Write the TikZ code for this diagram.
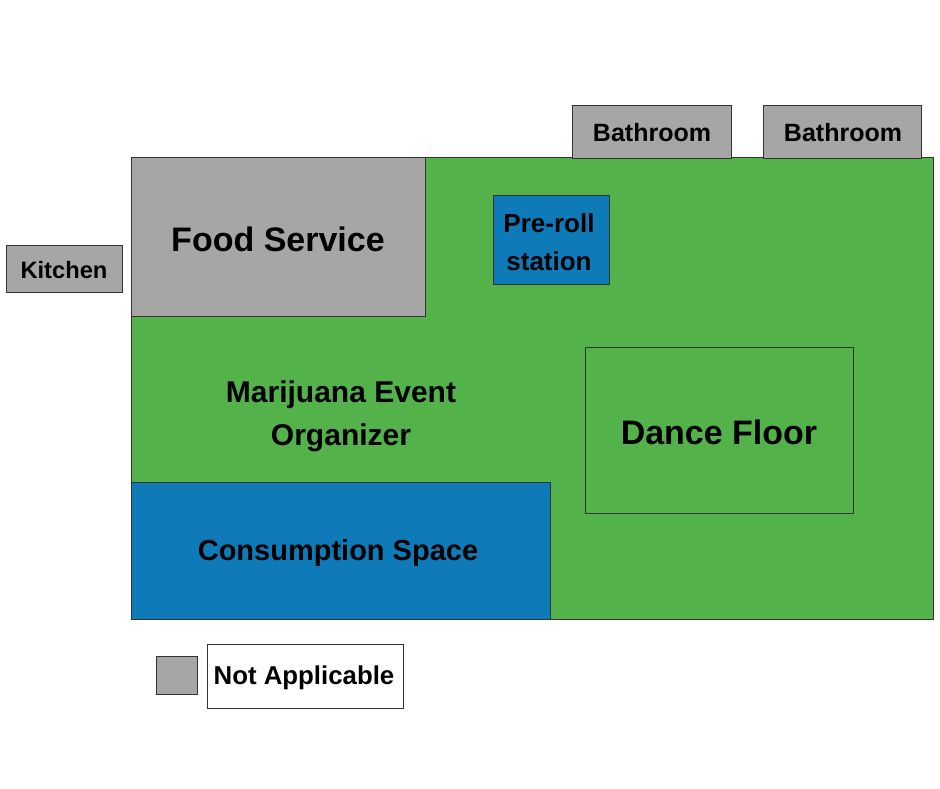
\documentclass[tikz,border=0pt]{standalone}
\usepackage{fontspec}
\setmainfont{Liberation Sans}
\definecolor{grn}{HTML}{53B34A}
\definecolor{blu}{HTML}{0F7AB8}
\definecolor{gry}{HTML}{A6A6A6}
\begin{document}
\begin{tikzpicture}[x=1pt,y=-1pt,
  room/.style={draw=black!80,line width=0.8pt},
  lbl/.style={font=\bfseries,align=center,text=black}]
\useasboundingbox (0,0) rectangle (940,788);
\fill[white] (0,0) rectangle (940,788);
\draw[room,fill=grn] (131,157) rectangle (933,619);
\draw[room,fill=gry] (131,157) rectangle (425,316);
\draw[room,fill=gry] (6,245) rectangle (122,292);
\draw[room,fill=gry] (572,105) rectangle (731,158);
\draw[room,fill=gry] (763,105) rectangle (921,158);
\draw[room,fill=blu] (493,195) rectangle (609,284);
\draw[room,fill=grn] (585,347) rectangle (853,513);
\draw[room,fill=blu] (131,482) rectangle (550,619);
\draw[room,fill=gry] (156,656) rectangle (197,694);
\draw[room,fill=white] (207,644) rectangle (403,708);
\node[lbl,font=\fontsize{34}{36}\bfseries\selectfont] (fs) at (278,239) {Food Service};
\node[lbl,font=\fontsize{23.7}{26}\bfseries\selectfont] (k) at (64,270) {Kitchen};
\node[lbl,font=\fontsize{25}{27}\bfseries\selectfont] (b1) at (652,133) {Bathroom};
\node[lbl,font=\fontsize{25}{27}\bfseries\selectfont] (b2) at (843,133) {Bathroom};
\node[lbl,font=\fontsize{26}{38}\bfseries\selectfont] (pr) at (549,242) {Pre-roll\\station};
\node[lbl,font=\fontsize{30}{43}\bfseries\selectfont] (meo) at (341,416) {Marijuana Event\\Organizer};
\node[lbl,font=\fontsize{34}{36}\bfseries\selectfont] (df) at (719,432) {Dance Floor};
\node[lbl,font=\fontsize{29}{30}\bfseries\selectfont] (cs) at (338,553) {Consumption Space};
\node[lbl,font=\fontsize{25.8}{28}\bfseries\selectfont] (na) at (304,678) {Not Applicable};
\end{tikzpicture}
\end{document}
